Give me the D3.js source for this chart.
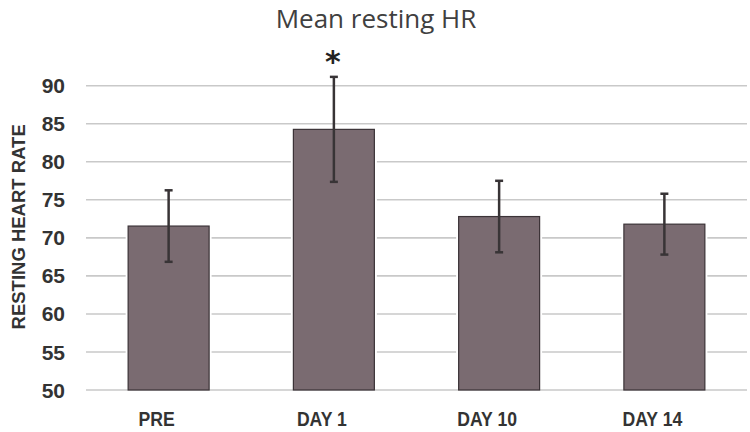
<!DOCTYPE html>
<html><head><meta charset="utf-8">
<script src="https://cdn.jsdelivr.net/npm/d3@7"></script>
<style>body{margin:0;background:#fff}svg{display:block}</style>
</head><body>
<script>
const categories = ["PRE", "DAY 1", "DAY 10", "DAY 14"];
const meanValues = [71.55, 84.26, 72.8, 71.8];
const errorValues = [4.7, 6.9, 4.7, 4.0];
const yTicks = [50, 55, 60, 65, 70, 75, 80, 85, 90];
const significant = [false, true, false, false];
const title = "Mean resting HR";
const yLabel = "RESTING HEART RATE";

const W = 750, H = 432;
const svg = d3.select("body").append("svg").attr("width", W).attr("height", H);

const x = d3.scaleBand().domain(categories).range([86, 747]).paddingInner(0.51).paddingOuter(0.255);
const y = d3.scaleLinear().domain([50, 90]).range([390, 85.7]);

// gridlines
svg.append("g").selectAll("line").data(yTicks).join("line")
  .attr("x1", 86).attr("x2", 747)
  .attr("y1", d => y(d)).attr("y2", d => y(d))
  .attr("stroke", "#c9c9c9").attr("stroke-width", 1.6);

// y tick labels
svg.append("g").selectAll("text").data(yTicks).join("text")
  .attr("x", 65).attr("y", d => y(d)).attr("dy", "0.36em")
  .attr("text-anchor", "end")
  .attr("font-family", "Liberation Sans, Arial, sans-serif")
  .attr("font-weight", "bold").attr("font-size", 21).attr("fill", "#333")
  .text(d => d);

// y label
svg.append("text")
  .attr("transform", `translate(25,${(y(50)+y(90))/2 - 11}) rotate(-90)`)
  .attr("text-anchor", "middle")
  .attr("font-family", "Liberation Sans, Arial, sans-serif")
  .attr("font-weight", "bold").attr("font-size", 18.5).attr("fill", "#333")
  .text(yLabel);

const data = categories.map((c, i) => ({c, v: meanValues[i], e: errorValues[i], s: significant[i]}));

// white halo behind bars
svg.append("g").selectAll("rect").data(data).join("rect")
  .attr("x", d => x(d.c) - 2.5).attr("width", x.bandwidth() + 5)
  .attr("y", d => y(d.v)).attr("height", d => y(50) - y(d.v) - 1)
  .attr("fill", "#fff");

// bars
svg.append("g").selectAll("rect").data(data).join("rect")
  .attr("x", d => x(d.c)).attr("width", x.bandwidth())
  .attr("y", d => y(d.v)).attr("height", d => y(50) - y(d.v))
  .attr("fill", "#7a6b71").attr("stroke", "#3b3337").attr("stroke-width", 1.2);

// error bars
const eg = svg.append("g").attr("stroke", "#383436").attr("stroke-width", 2.5);
data.forEach(d => {
  const cx = x(d.c) + x.bandwidth() / 2;
  eg.append("line").attr("x1", cx).attr("x2", cx).attr("y1", y(d.v + d.e)).attr("y2", y(d.v - d.e));
  eg.append("line").attr("x1", cx - 4).attr("x2", cx + 4).attr("y1", y(d.v + d.e)).attr("y2", y(d.v + d.e));
  eg.append("line").attr("x1", cx - 4).attr("x2", cx + 4).attr("y1", y(d.v - d.e)).attr("y2", y(d.v - d.e));
});

// significance asterisk
svg.append("g").selectAll("text").data(data.filter(d => d.s)).join("text")
  .attr("x", d => x(d.c) + x.bandwidth() / 2 - 1).attr("y", d => y(d.v + d.e) - 5)
  .attr("text-anchor", "middle")
  .attr("font-family", "DejaVu Sans, sans-serif").attr("font-weight", "bold")
  .attr("font-size", 30).attr("fill", "#222")
  .text("*");

// x labels (condensed bold)
svg.append("g").selectAll("text").data(categories).join("text")
  .attr("transform", d => `translate(${x(d) + x.bandwidth() / 2 - 12},426) scale(0.86,1)`)
  .attr("text-anchor", "middle")
  .attr("font-family", "Liberation Sans, Arial, sans-serif")
  .attr("font-weight", "bold").attr("font-size", 20.5).attr("fill", "#333")
  .text(d => d);

// title
svg.append("text")
  .attr("x", 376).attr("y", 28)
  .attr("text-anchor", "middle")
  .attr("font-family", "Open Sans, sans-serif")
  .attr("font-size", 26).attr("fill", "#404040")
  .text(title);
</script>
</body></html>
